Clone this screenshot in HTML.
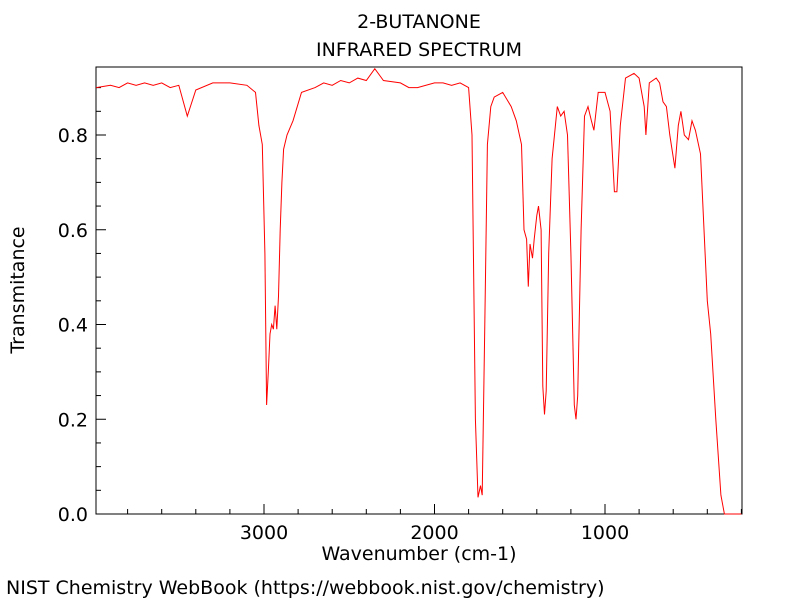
<!DOCTYPE html>
<html><head><meta charset="utf-8"><style>
body{margin:0;background:#fff;font-family:"DejaVu Sans","Liberation Sans",sans-serif;}
</style></head><body>
<svg id="chart" width="800" height="600" xmlns="http://www.w3.org/2000/svg">
<rect width="800" height="600" fill="#fff"/>
<text x="419" y="28" text-anchor="middle" font-size="19">2-BUTANONE</text>
<text x="419" y="56" text-anchor="middle" font-size="19">INFRARED SPECTRUM</text>
<g id="ticks"></g>
<rect x="96" y="67" width="646" height="447" fill="none" stroke="#000" stroke-width="1"/>
<path id="line" fill="none" stroke="#ff0000" stroke-width="1"/>
<text x="419" y="560" text-anchor="middle" font-size="19">Wavenumber (cm-1)</text>
<text transform="translate(24,290) rotate(-90)" text-anchor="middle" font-size="19">Transmitance</text>
<text x="6" y="594" font-size="19">NIST Chemistry WebBook (https://webbook.nist.gov/chemistry)</text>
</svg>
<script>
const wavenumbers=[3985,3900,3850,3800,3750,3700,3650,3600,3550,3500,3450,3400,3300,3200,3100,3050,3030,3010,2995,2985,2975,2965,2955,2945,2935,2925,2915,2905,2895,2885,2865,2830,2780,2700,2650,2600,2550,2500,2450,2400,2350,2300,2200,2150,2100,2000,1950,1900,1850,1800,1780,1760,1745,1730,1720,1705,1690,1670,1650,1600,1550,1520,1490,1475,1460,1450,1440,1425,1415,1400,1390,1375,1365,1355,1345,1330,1310,1280,1260,1240,1220,1200,1180,1170,1160,1140,1120,1100,1080,1065,1040,1000,970,945,930,910,880,830,800,770,760,740,700,680,660,640,620,590,570,555,535,510,490,470,440,400,380,350,320,300,200];
const transmittance=[0.90,0.905,0.90,0.91,0.905,0.91,0.905,0.91,0.90,0.905,0.84,0.895,0.91,0.91,0.905,0.89,0.82,0.78,0.55,0.23,0.30,0.38,0.40,0.39,0.44,0.39,0.46,0.60,0.70,0.77,0.80,0.83,0.89,0.90,0.91,0.905,0.915,0.91,0.92,0.915,0.94,0.915,0.91,0.90,0.90,0.91,0.91,0.905,0.91,0.90,0.80,0.20,0.035,0.06,0.04,0.40,0.78,0.86,0.88,0.89,0.86,0.83,0.78,0.60,0.58,0.48,0.57,0.54,0.58,0.63,0.65,0.60,0.27,0.21,0.26,0.55,0.75,0.86,0.84,0.85,0.80,0.55,0.23,0.20,0.25,0.60,0.84,0.86,0.83,0.81,0.89,0.89,0.85,0.68,0.68,0.82,0.92,0.93,0.92,0.86,0.80,0.91,0.92,0.91,0.87,0.86,0.80,0.73,0.82,0.85,0.80,0.79,0.83,0.81,0.76,0.45,0.38,0.20,0.04,0.0,0.0];
const xTickLabels=[3000,2000,1000];
const yTickLabels=[0.0,0.2,0.4,0.6,0.8];
const xs=w=>264+(3000-w)*0.1705;
const ys=t=>514-t*473.75;
const NS="http://www.w3.org/2000/svg";
const g=document.getElementById('ticks');
function ln(x1,y1,x2,y2,name){const l=document.createElementNS(NS,'line');l.setAttribute('x1',x1);l.setAttribute('y1',y1);l.setAttribute('x2',x2);l.setAttribute('y2',y2);l.setAttribute('stroke','#000');


g.appendChild(l);}
function tx(x,y,s,anchor,name){const t=document.createElementNS(NS,'text');t.setAttribute('x',x);t.setAttribute('y',y);t.setAttribute('font-size','19');t.setAttribute('text-anchor',anchor);t.textContent=s;


g.appendChild(t);}
for(let w=3800;w>=200;w-=200){const x=xs(w);if(x<96||x>742)continue;const major=w%1000===0;ln(x,514,x,514-(major?10:5),'x-tick');}
xTickLabels.forEach(v=>tx(xs(v),539,String(v),'middle','x-tick-label'));
for(let i=0;i<=18;i++){const t=i*0.05;const y=ys(t);if(y<67)continue;const major=i%4===0;ln(96,y,96+(major?10:5),y,'y-tick');}
yTickLabels.forEach(v=>tx(88,ys(v)+7,v.toFixed(1),'end','y-tick-label'));
document.getElementById('line').setAttribute('d',wavenumbers.map((w,i)=>(i?'L':'M')+xs(w).toFixed(1)+','+ys(transmittance[i]).toFixed(1)).join(''));
</script>
</body></html>
